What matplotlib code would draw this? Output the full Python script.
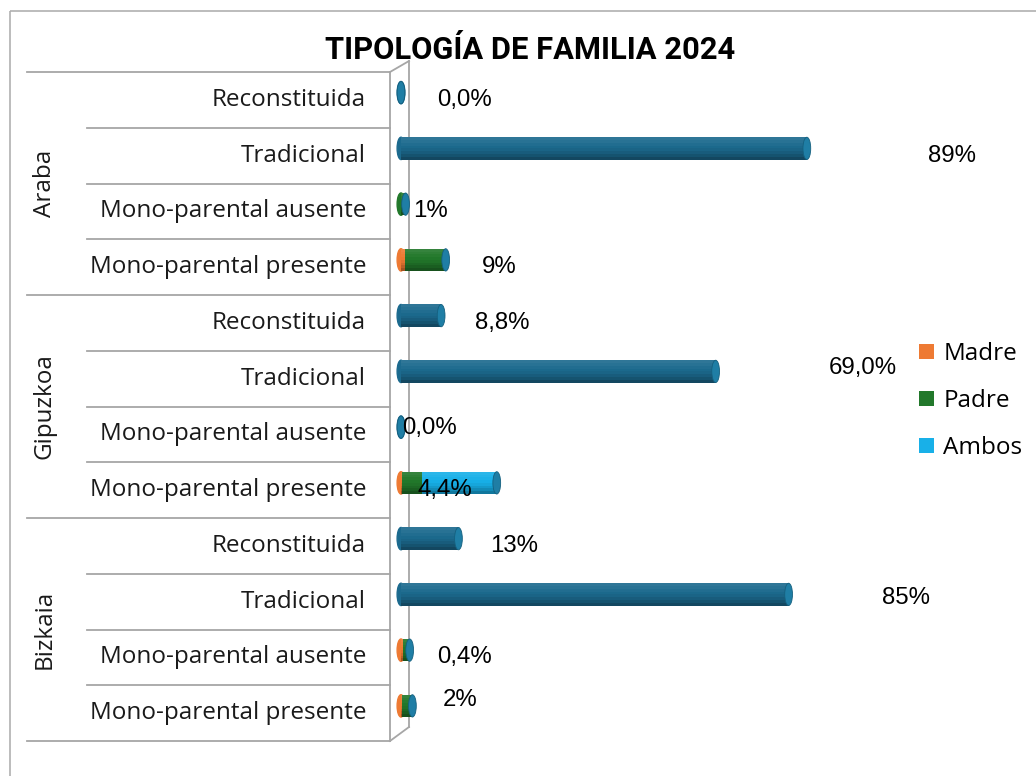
import matplotlib
matplotlib.use("Agg")
import matplotlib.pyplot as plt
from matplotlib.patches import Ellipse, Rectangle
import numpy as np

# data (rows top to bottom)
regiones = ["Araba", "Gipuzkoa", "Bizkaia"]
tipos = ["Reconstituida", "Tradicional", "Mono-parental ausente", "Mono-parental presente"]
madre = [0, 0, 0, 0.8, 0, 0, 0, 0.3, 0, 0, 0.5, 0.3]
padre = [0, 0, 1.0, 9.0, 0, 0, 0, 4.2, 0, 0, 1.4, 2.2]
ambos = [0, 0, 0, 0, 0, 0, 0, 16.5, 0, 0, 0, 0]
resto = [0, 89, 0, 0, 8.8, 69, 0, 0, 12.6, 85, 0, 0]
etiquetas = ["0,0%", "89%", "1%", "9%", "8,8%", "69,0%", "0,0%", "4,4%", "13%", "85%", "0,4%", "2%"]

# label placement (layout only)
lab_x = [7.9, 115.6, 2.6, 17.8, 16.2, 93.9, 0.2, 3.7, 19.5, 105.5, 7.9, 9.2]
lab_dy = [0, 0, 0, 0, 0, -0.19, -0.11, 0, 0, -0.06, 0, -0.23]

W, H = 1036, 776
fig = plt.figure(figsize=(W / 100, H / 100), dpi=100)

# background axes in pixel coords for the frame / table lines
bg = fig.add_axes([0, 0, 1, 1])
bg.set_xlim(0, W)
bg.set_ylim(H, 0)
bg.axis("off")
grey = "#a6a6a6"
bg.add_patch(Rectangle((10, 11), 1100, 900, fill=False, ec="#b0b0b0", lw=1.2))

top, bot = 72, 741
rowh = (bot - top) / 12
for i in range(13):
    y = top + i * rowh
    x0 = 27 if i % 4 == 0 else 87
    bg.plot([x0, 390], [y, y], color=grey, lw=1.3)
# 3D wall
bg.plot([390, 390], [top, bot], color=grey, lw=1.3)
bg.plot([409, 409], [61, 727], color=grey, lw=1.3)
bg.plot([390, 409], [top, 61], color=grey, lw=1.3)
bg.plot([390, 409], [bot, 727], color=grey, lw=1.3)

font = "Open Sans"
for i, t in enumerate(tipos * 3):
    bg.text(366, top + (i + 0.5) * rowh, t, ha="right", va="center",
            fontsize=17.5, family=font, color="#1a1a1a")
for g, r in enumerate(regiones):
    bg.text(45, top + (g * 4 + 2) * rowh, r, ha="center", va="center",
            rotation=90, fontsize=17.5, family=font, color="#1a1a1a")

bg.text(530, 50, "TIPOLOGÍA DE FAMILIA 2024", ha="center", va="center",
        fontsize=22.2, fontweight="bold", family="Roboto", color="black")

# bar axes
px0, scale = 401, 4.56
ax = fig.add_axes([px0 / W, 1 - bot / H, (W - px0) / W, (bot - top) / H])
ax.set_xlim(0, (W - px0) / scale)
ax.set_ylim(11.5, -0.5)
ax.axis("off")

n = len(madre)
yc = np.arange(n) - 0.13
bh = 0.40
capw = 1.7
series = [("Madre", madre, "#ee7a33"), ("Padre", padre, "#22782b"),
          ("Ambos", ambos, "#18b0e8"), ("_resto", resto, "#1c6a8e")]

left = np.zeros(n)
handles = []
# left rounded ends
for i in range(n):
    first = next((c for _, v, c in series if v[i] > 0), "#1c6a8e")
    ax.add_patch(Ellipse((0, yc[i]), capw, bh, color=first, zorder=1, clip_on=False))
nstrip = 8
for name, vals, col in series:
    v = np.array(vals, dtype=float)
    b = ax.barh(yc, v, left=left, height=bh, color=col, label=name, zorder=2)
    if not name.startswith("_"):
        handles.append(b)
    # soft vertical shading for a cylinder look
    for k in range(nstrip):
        f = (k + 0.5) / nstrip
        y_k = yc - bh / 2 + bh * (k + 0.5) / nstrip
        if f < 0.4:
            a, c = 0.10 * (1 - f / 0.4), "white"
        else:
            a, c = 0.38 * ((f - 0.4) / 0.6) ** 1.5, "black"
        ax.barh(y_k, v, left=left, height=bh / nstrip, color=c, alpha=a,
                lw=0, zorder=3)
    left = left + v
for i in range(n):
    ax.add_patch(Ellipse((left[i], yc[i]), capw, bh, color="#1f7ea5",
                         ec="#15607f", lw=0.6, zorder=4, clip_on=False))

for i in range(n):
    ax.text(lab_x[i], i + lab_dy[i], etiquetas[i], ha="left", va="center",
            fontsize=17.3, family="Liberation Sans", color="black", zorder=5,
            clip_on=False)

fig.legend(handles=handles, loc="upper left", bbox_to_anchor=(907 / W, 1 - 330 / H),
           frameon=False, prop={"family": font, "size": 17.5}, handlelength=0.6,
           handleheight=0.6, handletextpad=0.4, labelspacing=0.95, borderpad=0)

fig.savefig("out.png", dpi=100)
